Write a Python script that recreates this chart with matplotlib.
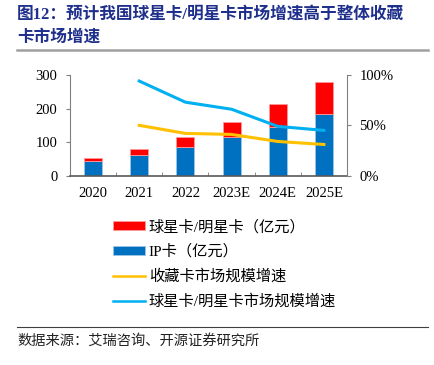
import numpy as np
import matplotlib
matplotlib.use("Agg")
import matplotlib.pyplot as plt
from matplotlib.lines import Line2D

plt.rcParams['font.family'] = ['Liberation Serif', 'Noto Sans CJK SC', 'DejaVu Sans']

categories = ['2020', '2021', '2022', '2023E', '2024E', '2025E']
ip_card = [44, 61, 85, 116, 146, 183]
star_card = [10, 20, 30, 45, 68, 97]
collect_growth = [np.nan, 50, 42, 41, 34, 31]
star_growth = [np.nan, 94, 73, 66, 49, 45]

label_star = '球星卡/明星卡（亿元）'
label_ip = 'IP卡（亿元）'
label_cg = '收藏卡市场规模增速'
label_sg = '球星卡/明星卡市场规模增速'

W, H = 435, 365
fig = plt.figure(figsize=(W / 100, H / 100), dpi=100)

ax = fig.add_axes([70 / W, 1 - 175.7 / H, (347 - 70) / W, (175.7 - 75) / H])
x = np.arange(len(categories))
bw = 0.39
b_ip = ax.bar(x, ip_card, bw, color='#0070C0', edgecolor='#9DC3E6', linewidth=0.6, zorder=2)
b_star = ax.bar(x, star_card, bw, bottom=ip_card, color='#FF0000', edgecolor='#FF9999', linewidth=0.6, zorder=2)
ax.set_xlim(-0.5, len(categories) - 0.5)
ax.set_ylim(0, 300)
ax.set_yticks([0, 100, 200, 300])
ax.set_xticks(x)
ax.set_xticklabels(categories)
ax.set_xticks(np.arange(len(categories) + 1) - 0.5, minor=True)
ax.tick_params(axis='x', which='major', length=0, pad=8, labelsize=10.5)
ax.tick_params(axis='x', which='minor', length=3, direction='in', color='#808080')
ax.tick_params(axis='y', length=3, direction='out', color='#808080', labelsize=10.5, pad=6)
for s in ['top', 'right']:
    ax.spines[s].set_visible(False)
ax.spines['left'].set_color('#808080')
ax.spines['bottom'].set_color('#595959')
ax.spines['bottom'].set_linewidth(1.2)

ax2 = ax.twinx()
l_cg, = ax2.plot(x, collect_growth, color='#FFC000', lw=2.2, zorder=3)
l_sg, = ax2.plot(x, star_growth, color='#00B0F0', lw=2.2, zorder=3)
ax2.set_ylim(0, 100)
ax2.set_yticks([0, 50, 100])
ax2.set_yticklabels(['0%', '50%', '100%'])
ax2.tick_params(axis='y', length=3, direction='out', color='#808080', labelsize=10.5, pad=6)
for s in ['top', 'left', 'bottom']:
    ax2.spines[s].set_visible(False)
ax2.spines['right'].set_color('#808080')

h_cg = Line2D([], [], color='#FFC000', lw=1.8)
h_sg = Line2D([], [], color='#00B0F0', lw=1.8)
leg = fig.legend([b_star, b_ip, h_cg, h_sg], [label_star, label_ip, label_cg, label_sg],
                 loc='upper left', bbox_to_anchor=(113 / W, 1 - 219.5 / H),
                 frameon=False, fontsize=11, handlelength=2.1, handleheight=0.45,
                 handletextpad=0.25, labelspacing=0.68, borderaxespad=0, borderpad=0)

title_color = '#1F2F8C'
fig.text(17 / W, 1 - 15 / H, '图12：预计我国球星卡/明星卡市场增速高于整体收藏',
         fontsize=12, fontweight='bold', color=title_color, va='center', ha='left')
fig.text(17 / W, 1 - 38 / H, '卡市场增速',
         fontsize=12, fontweight='bold', color=title_color, va='center', ha='left')
fig.add_artist(Line2D([17 / W, 428 / W], [1 - 50 / H, 1 - 50 / H], color='#A0A0A0', lw=1.8))
fig.add_artist(Line2D([17 / W, 428 / W], [1 - 327 / H, 1 - 327 / H], color='#404040', lw=0.8))
fig.text(17 / W, 1 - 341 / H, '数据来源：艾瑞咨询、开源证券研究所', fontsize=10.3,
         color='#222222', va='center', ha='left')

fig.savefig('out.png', dpi=100)
